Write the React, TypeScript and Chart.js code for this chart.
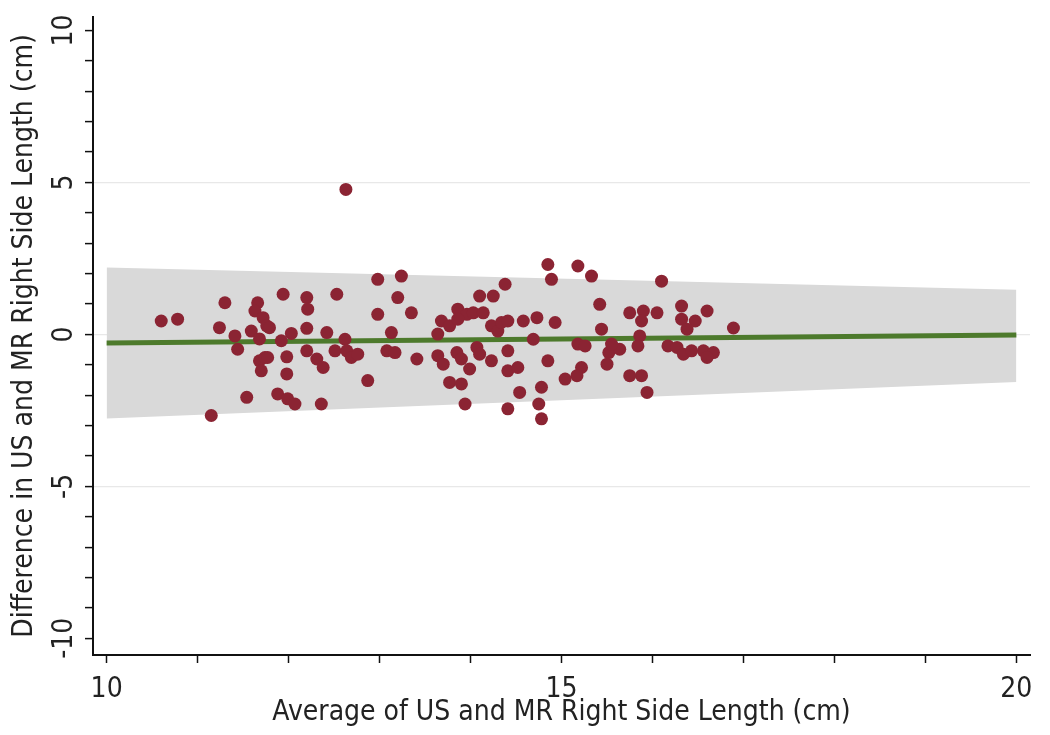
import React, { useEffect, useRef } from "react";
import { Chart, registerables } from "chart.js";

Chart.register(...registerables);

// Bland-Altman style scatter: average (x) vs difference (y)
const avgX = [
  10.6, 10.78, 11.3, 11.24, 11.66, 11.63, 11.72, 11.76, 11.41, 11.44,
  11.59, 11.68, 11.68, 11.74, 11.7, 11.54, 11.15, 11.94, 12.2, 12.21,
  12.53, 12.98, 12.98, 11.79, 12.03, 11.92, 12.2, 12.42, 12.62, 12.51,
  12.64, 12.69, 12.76, 11.77, 11.98, 12.2, 12.31, 12.38, 11.98, 12.87,
  11.88, 11.99, 12.07, 12.36, 13.24, 13.2, 13.35, 13.68, 13.77, 13.86,
  13.96, 14.03, 14.1, 14.14, 14.25, 14.23, 14.3, 13.86, 13.13, 13.64,
  13.08, 13.17, 13.41, 13.64, 13.7, 13.85, 13.9, 14.07, 14.1, 14.23,
  13.99, 13.77, 13.9, 13.94, 14.85, 14.89, 15.18, 15.33, 14.38, 15.42,
  14.34, 14.41, 14.58, 14.73, 14.93, 15.44, 14.69, 15.18, 15.26, 14.41,
  14.85, 15.52, 15.5, 14.41, 14.52, 15.22, 15.17, 15.04, 14.54, 14.78,
  14.75, 14.41, 14.78, 16.1, 15.75, 15.9, 16.05, 15.88, 16.32, 16.32,
  16.47, 16.6, 16.38, 15.86, 15.84, 15.64, 15.55, 16.17, 16.27, 16.34,
  16.43, 16.56, 16.67, 16.6, 16.89, 15.75, 15.88, 15.94, 12.63,
];
const diffY = [
  0.44, 0.5, 1.04, 0.22, 1.04, 0.77, 0.55, 0.28, -0.05, -0.49,
  0.11, -0.15, -0.87, -0.76, -1.2, -2.07, -2.67, 1.32, 1.21, 0.83,
  1.32, 1.81, 0.66, 0.22, 0.03, -0.21, 0.2, 0.06, -0.16, -0.54,
  -0.54, -0.76, -0.65, -0.76, -0.74, -0.54, -0.81, -1.09, -1.3, -1.52,
  -1.96, -2.12, -2.29, -2.29, 1.92, 1.21, 0.71, 0.44, 0.28, 0.83,
  0.66, 0.71, 1.26, 0.71, 1.26, 0.28, 0.11, 0.5, 0.06, 0.01,
  -0.54, -0.6, -0.81, -0.7, -0.98, -0.6, -0.81, -0.43, -0.65, -0.87,
  -1.14, -1.58, -1.63, -2.29, 2.3, 1.81, 2.25, 1.92, 1.65, 0.99,
  0.39, 0.44, 0.44, 0.55, 0.39, 0.17, -0.16, -0.32, -0.38, -0.54,
  -0.87, -0.6, -0.98, -1.2, -1.09, -1.09, -1.36, -1.47, -1.91, -1.74,
  -2.29, -2.45, -2.78, 1.75, 0.71, 0.77, 0.71, 0.44, 0.93, 0.5,
  0.44, 0.77, 0.17, -0.05, -0.38, -0.49, -0.32, -0.38, -0.43, -0.65,
  -0.54, -0.54, -0.6, -0.76, 0.21, -1.36, -1.36, -1.91, 4.77,
];

const fitX = [10, 20];
const fitY = [-0.28, -0.02];
const bandX = [10, 20];
const bandUpper = [2.2, 1.47];
const bandLower = [-2.77, -1.57];

const xTickValues = [10, 11, 12, 13, 14, 15, 16, 17, 18, 19, 20];
const xLabelValues = [10, 15, 20];
const yTickValues = [-10, -9, -8, -7, -6, -5, -4, -3, -2, -1, 0, 1, 2, 3, 4, 5, 6, 7, 8, 9, 10];
const yLabelValues = [-10, -5, 0, 5, 10];
const yGridValues = [-5, 0, 5];

const FONT = "'Liberation Sans Narrow', 'Arial Narrow', 'DejaVu Sans Condensed', 'Liberation Sans', sans-serif";

export default function App() {
  const ref = useRef<HTMLCanvasElement | null>(null);

  useEffect(() => {
    if (!ref.current) return;
    const points = avgX.map((x, i) => ({ x, y: diffY[i] }));
    const fit = fitX.map((x, i) => ({ x, y: fitY[i] }));
    const upper = bandX.map((x, i) => ({ x, y: bandUpper[i] }));
    const lower = bandX.map((x, i) => ({ x, y: bandLower[i] }));

    const chart = new Chart(ref.current, {
      type: "scatter",
      data: {
        datasets: [
          {
            type: "scatter",
            label: "Difference",
            data: points,
            backgroundColor: "#8b2433",
            borderColor: "#8b2433",
            pointRadius: 6.5,
            pointHoverRadius: 6.5,
            borderWidth: 0,
            order: 0,
          },
          {
            type: "line",
            label: "Fit",
            data: fit,
            borderColor: "#4d7a2c",
            borderWidth: 5,
            pointRadius: 0,
            fill: false,
            order: 1,
          },
          {
            type: "line",
            label: "Upper",
            data: upper,
            borderWidth: 0,
            borderColor: "rgba(0,0,0,0)",
            backgroundColor: "#d9d9d9",
            pointRadius: 0,
            fill: "+1",
            order: 2,
          },
          {
            type: "line",
            label: "Lower",
            data: lower,
            borderWidth: 0,
            borderColor: "rgba(0,0,0,0)",
            pointRadius: 0,
            fill: false,
            order: 3,
          },
        ],
      },
      options: {
        animation: false,
        responsive: false,
        maintainAspectRatio: false,
        layout: { padding: { top: 15, right: 20, left: 0, bottom: 0 } },
        plugins: {
          legend: { display: false },
          tooltip: { enabled: false },
        },
        scales: {
          x: {
            type: "linear",
            min: 9.85,
            max: 20.15,
            afterFit: (s: any) => {
              s.height = 80;
            },
            afterBuildTicks: (s: any) => {
              s.ticks = xTickValues.map((v) => ({ value: v }));
            },
            grid: {
              drawOnChartArea: false,
              drawTicks: true,
              tickLength: 8,
              tickColor: "#111",
              tickWidth: 1.5,
            },
            border: { display: true, color: "#111", width: 2 },
            ticks: {
              autoSkip: false,
              maxRotation: 0,
              minRotation: 0,
              padding: 10,
              color: "#222",
              font: { family: FONT, size: 28 },
              callback: (v: any) => (xLabelValues.includes(Number(v)) ? String(v) : ""),
            },
            title: {
              display: true,
              text: "Average of US and MR Right Side Length (cm)",
              color: "#222",
              font: { family: FONT, size: 28 },
              padding: { top: 0, bottom: 5 },
            },
          },
          y: {
            type: "linear",
            min: -10.55,
            max: 10.45,
            afterFit: (s: any) => {
              s.width = 93;
            },
            afterBuildTicks: (s: any) => {
              s.ticks = yTickValues.map((v) => ({ value: v }));
            },
            grid: {
              drawOnChartArea: true,
              drawTicks: true,
              tickLength: 8,
              color: (c: any) =>
                c.tick && yGridValues.includes(c.tick.value) ? "#e8e8e8" : "rgba(0,0,0,0)",
              lineWidth: 1.2,
              tickColor: "#111",
              tickWidth: 1.5,
            },
            border: { display: true, color: "#111", width: 2 },
            ticks: {
              autoSkip: false,
              minRotation: 90,
              maxRotation: 90,
              crossAlign: "center",
              padding: 0,
              color: "#222",
              font: { family: FONT, size: 28 },
              callback: (v: any) => (yLabelValues.includes(Number(v)) ? String(v) : ""),
            },
            title: {
              display: true,
              text: "Difference in US and MR Right Side Length (cm)",
              color: "#222",
              font: { family: FONT, size: 28 },
              padding: { top: 8, bottom: 0 },
            },
          },
        },
      },
    });
    return () => chart.destroy();
  }, []);

  return (
    <div style={{ position: "fixed", left: 0, top: 0, width: 1050, height: 735, background: "#fff" }}>
      <canvas ref={ref} width={1050} height={735} style={{ width: 1050, height: 735 }} />
    </div>
  );
}
